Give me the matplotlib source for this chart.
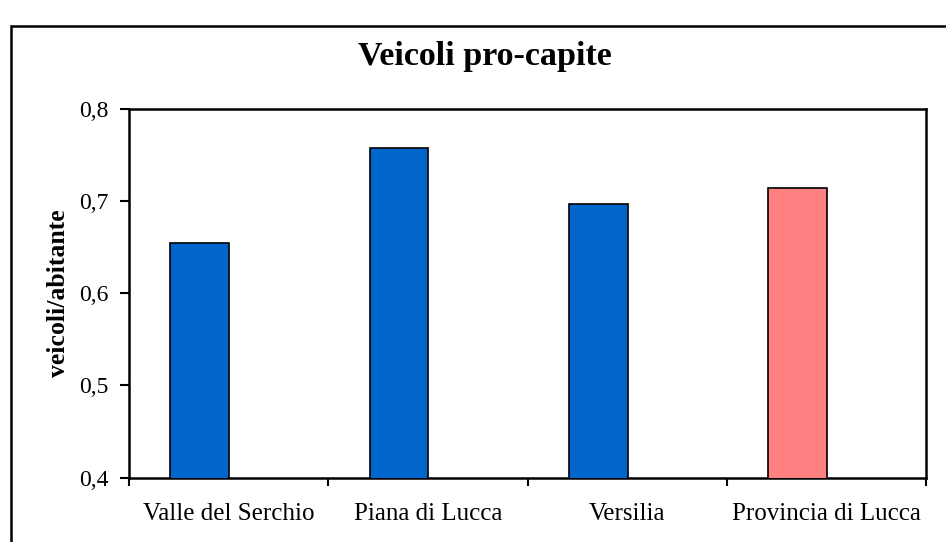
"""Veicoli pro-capite per area della provincia di Lucca."""

import matplotlib.pyplot as plt
from matplotlib.patches import Rectangle
from matplotlib.ticker import FuncFormatter, FixedLocator
import numpy as np

plt.rcParams["font.family"] = ["Liberation Serif", "DejaVu Serif"]

categories = ["Valle del Serchio", "Piana di Lucca", "Versilia", "Provincia di Lucca"]
values = [0.654, 0.7575, 0.697, 0.714]
colors = ["#0066CC", "#0066CC", "#0066CC", "#FF8080"]
y_ticks = [0.4, 0.5, 0.6, 0.7, 0.8]

fig = plt.figure(figsize=(9.46, 5.42), dpi=100)
ax = fig.add_axes([0.1364, 0.119, 0.8425, 0.6808])

x = np.arange(len(categories))
ax.bar(x - 0.145, values, width=0.295, color=colors, edgecolor="black", linewidth=1.2, zorder=3)

ax.set_xlim(-0.5, len(categories) - 0.5)
ax.set_ylim(0.4, 0.8)
ax.set_yticks(y_ticks)
ax.yaxis.set_major_formatter(FuncFormatter(lambda v, _: f"{v:.1f}".replace(".", ",")))
ax.xaxis.set_major_locator(FixedLocator(np.arange(len(categories) + 1) - 0.5))
ax.xaxis.set_major_formatter(FuncFormatter(lambda v, _: ""))
ax.xaxis.set_minor_locator(FixedLocator(x))
ax.set_xticklabels(categories, minor=True)
ax.tick_params(axis="x", which="minor", length=0, pad=18.5, labelsize=18)
ax.tick_params(axis="x", which="major", length=6, width=1.5, direction="out")
ax.tick_params(axis="y", length=6.5, width=1.5, direction="out", labelsize=17, pad=8)
for spine in ax.spines.values():
    spine.set_linewidth(1.8)

ax.set_ylabel("veicoli/abitante", fontsize=18.5, fontweight="bold", labelpad=7)
fig.text(0.513, 0.895, "Veicoli pro-capite", ha="center", va="center",
         fontsize=24.5, fontweight="bold")

# outer chart frame, running off the right and bottom edges
fig.patches.append(Rectangle((11 / 946, -0.1), 1.2, 1.076 - 13 / 542,
                             transform=fig.transFigure, fill=False,
                             edgecolor="black", linewidth=1.8))

fig.savefig("out.png", dpi=100)
